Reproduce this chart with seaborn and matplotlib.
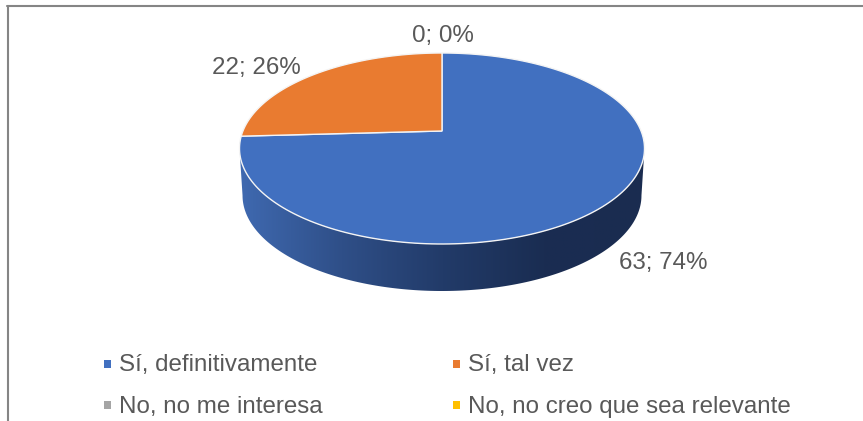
import numpy as np
import matplotlib
matplotlib.use("Agg")
import matplotlib.pyplot as plt
from matplotlib.colors import LinearSegmentedColormap
from matplotlib.lines import Line2D
from matplotlib.patches import Polygon, Rectangle
import seaborn as sns

sns.set_theme(style="white")
plt.rcParams["font.family"] = ["Liberation Sans", "DejaVu Sans"]

categories = ["Sí, definitivamente", "Sí, tal vez", "No, no me interesa", "No, no creo que sea relevante"]
values = [63, 22, 0, 0]
percents = [74, 26, 0, 0]
colors = ["#4170C0", "#E97B30", "#A5A5A5", "#FFC000"]
wall_colors = ["#3F69B0", "#2F4F88", "#223B69", "#1A2D52", "#1A2C50"]
text_color = "#595959"
frame_color = "#858585"

W, H = 863, 421
fig = plt.figure(figsize=(W / 100, H / 100), dpi=100, facecolor="white")


def fx(px):
    return px / W


def fy(py):
    return 1 - py / H


cx, cy, rx, ry, depth = 442, 148.5, 202.5, 95.5, 47
tilt = (cy - 131) / ry   # perspective shift of the pie centre on the disc


def warp(theta_deg):
    """Perspective map of points on the unit circle, keeps the circle outline."""
    th = np.radians(theta_deg)
    x, y = np.cos(th), np.sin(th)
    d = 1 + tilt * y
    return np.c_[x * np.sqrt(1 - tilt ** 2) / d, (y + tilt) / d]


ax = fig.add_axes([0, 0, 1, 1])
wedges, _ = ax.pie(values, colors=colors, startangle=90, counterclock=False, radius=1.0)
ax.set_aspect("auto")
for w in wedges:
    w.set_visible(False)
    if w.theta2 - w.theta1 > 0:
        arc = warp(np.linspace(w.theta1, w.theta2, 200))
        ax.add_patch(Polygon(np.r_[[[0, tilt]], arc], closed=True, facecolor=w.get_facecolor(),
                             edgecolor="#F4F4F4", linewidth=1.0, zorder=2))
ax.axis("off")

# Side wall of the 3-D disc
dy = depth / ry
t = np.linspace(np.pi, 2 * np.pi, 200)
upper = np.c_[np.cos(t), np.sin(t)]
lower = np.c_[np.cos(t[::-1]) * 0.985, np.sin(t[::-1]) - dy]
wall = Polygon(np.r_[upper, lower], closed=True, transform=ax.transData,
               facecolor="none", edgecolor="none")
ax.add_patch(wall)
cmap = LinearSegmentedColormap.from_list("wall", wall_colors)
im = ax.imshow(np.linspace(0, 1, 256)[None, :], cmap=cmap, aspect="auto",
               extent=(-1, 1, -1 - dy, 0), zorder=0.5)
im.set_clip_path(wall)
ax.set_xlim((0 - cx) / rx, (W - cx) / rx)
ax.set_ylim((cy - H) / ry, (cy - 0) / ry)

# Data labels
fs = 17.4
labels_xy = [(663, 263), (256, 68), (443, 36)]
for (lx, ly), v, p in zip(labels_xy, values, percents):
    fig.text(fx(lx), fy(ly), f"{v}; {p}%", ha="center", va="center", fontsize=fs, color=text_color)

# Legend
legend_pos = [(104, 364), (453, 364), (104, 405), (453, 405)]
for (lx, ly), c, name in zip(legend_pos, colors, categories):
    fig.add_artist(Rectangle((fx(lx), fy(ly + 4)), 7 / W, 8 / H, transform=fig.transFigure,
                             facecolor=c, edgecolor="none"))
    fig.text(fx(lx + 15), fy(ly + 1.5), name, ha="left", va="center", fontsize=fs, color=text_color)

# Chart frame
fig.add_artist(Line2D([fx(8), fx(8)], [fy(6), 0], color=frame_color, lw=1.5))
fig.add_artist(Line2D([fx(7), 1], [fy(6), fy(6)], color=frame_color, lw=1.5))

fig.savefig("out.png", dpi=100)
